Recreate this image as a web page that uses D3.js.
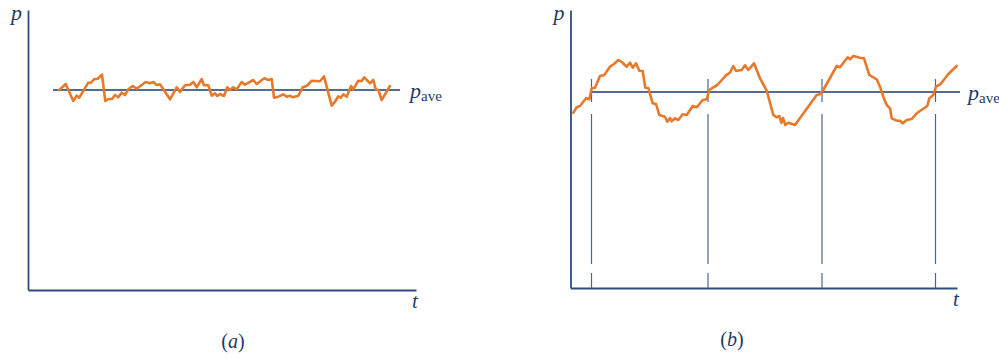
<!DOCTYPE html>
<html>
<head>
<meta charset="utf-8">
<script src="https://cdn.jsdelivr.net/npm/d3@7/dist/d3.min.js"></script>
<style>
  html, body { margin: 0; padding: 0; background: #fff; }
  svg { display: block; }
</style>
</head>
<body>
<svg id="chart" width="999" height="358"></svg>
<script>
// ---------- DATA ----------
// Panel (a): small fluctuations about the average
const tA = [31.3, 37.7, 45.3, 48.7, 51.3, 60.3, 63, 66, 69.7, 74, 77.3, 80.7, 84, 87, 90.3, 93.7, 97, 100.3, 104.7, 108.7,
  117.7, 122, 125.3, 128.7, 132, 142, 148.7, 152, 157, 162, 165.3, 168.7, 173.7, 176, 180.3, 183.7, 187, 189.3, 192, 196,
  199.3, 202, 205.3, 208.7, 213.7, 217, 225.3, 228.7, 236.3, 240.3, 243.7, 246, 250.3, 255.3, 258.7, 262, 264.7, 270.3, 274.7, 278.7,
  283.7, 292, 296, 303.7, 307, 310.3, 312.7, 315.3, 318.7, 323, 325.3, 330.3, 333.7, 336.3, 342, 345.3, 347.7, 350.3, 353.7, 362];
const pA = [200, 206, 189, 194.3, 192.3, 207.3, 207.3, 210.7, 211.3, 215.3, 189, 191, 191, 195, 192.7, 197.3, 195, 200.7, 204, 201.3,
  208, 206.7, 208, 205, 205.7, 190.7, 202.7, 198, 204.7, 205.3, 208, 202.7, 211, 204.7, 204.7, 194.3, 196.7, 194, 196, 194,
  202.7, 200, 202.7, 200.7, 208, 205.3, 210, 206, 211.7, 210, 211, 192.3, 193.3, 195.7, 193.3, 194.3, 192.7, 194.3, 202.7, 204,
  209.3, 208.7, 213.7, 184.3, 188.3, 193.7, 192.3, 195.7, 193.3, 204, 200.7, 209.3, 209, 212.7, 206.7, 210, 200.7, 200, 190, 204];
const paveA = 200;
const paveSpanA = [25, 372];
const tMaxA = 388, pMaxA = 280;

// Panel (b): periodic (oscillating) variation about the average
const tB = [2.8, 6.2, 9.5, 15.5, 18.8, 21.2, 24.5, 29.5, 33.8, 39.5, 43.5, 47.8, 51.2, 56.2, 59.5, 62.2, 65.5, 68.8, 72.2, 74.8,
  77.8, 82.2, 85.5, 88.8, 94.5, 96.8, 99.5, 101.2, 104.5, 107.8, 112.2, 116.2, 122.2, 126.2, 132.2, 136.2, 138.8, 142.8, 146.8, 155.5,
  159.5, 162.8, 165.5, 171.2, 174.5, 177.8, 183.5, 189.5, 196.2, 202.8, 206.2, 208.8, 210.8, 212.5, 214.8, 217.8, 224.5, 246.2, 249.5, 252.8,
  266.2, 269.5, 277.2, 279.5, 282.8, 289.5, 293.5, 298.8, 306.2, 309.5, 312.8, 316.2, 319.5, 321.2, 326.2, 329.5, 332.2, 336.2, 341.2, 346.2,
  356.8, 358.8, 362.8, 365.5, 370.2, 377.8, 386.2];
const pB = [175.3, 180.7, 182, 189.7, 188.7, 199.7, 200.3, 212, 213, 221.3, 224, 228, 226, 221.3, 225.3, 220.3, 224.7, 217.3, 217, 200.3,
  200, 184.7, 184, 173, 171.3, 166.3, 170, 166.7, 169.7, 168, 173.7, 173, 182, 180.7, 188, 188.7, 198, 200.7, 203, 212.7,
  215.3, 222, 217, 218, 222.7, 218, 224.7, 209.7, 197.3, 173, 170.7, 172, 165.3, 170, 163, 165.3, 163, 193, 193.7, 198,
  222, 220.7, 230.7, 228.7, 232, 230.3, 229.7, 213, 208.7, 201.3, 191.3, 183, 179.7, 169.7, 167.3, 167.3, 164.7, 168, 169, 174.7,
  182, 189.7, 193, 201.3, 204, 214, 222];
const paveB = 196;
const paveSpanB = [20.5, 389.5];
const tMaxB = 386.5, pMaxB = 278;
const periodMarks = [21, 137.5, 251.5, 365];
const markSegments = [[186, 209], [24, 174], [0, 15]];

// ---------- STYLE ----------
const ORANGE = "#e8792b";
const AXIS = "#2f4c7a";
const AVE = "#1e3a6b";
const MARK = "#4a6690";
const SERIF = "'Liberation Serif', 'Times New Roman', Times, 'DejaVu Serif', serif";
const TXT = "#1f3a66";

const svg = d3.select("#chart");

function drawPanel(o) {
  const x = d3.scaleLinear().domain([0, o.tMax]).range([o.x0, o.x1]);
  const y = d3.scaleLinear().domain([0, o.pMax]).range([o.y0, o.y1]);
  const g = svg.append("g");

  // axes (plain lines, no ticks)
  g.append("g").attr("transform", `translate(0,${o.y0})`)
    .call(d3.axisBottom(x).ticks(0).tickSize(0).tickSizeOuter(0).tickFormat(""))
    .call(s => s.select(".domain").attr("stroke", AXIS).attr("stroke-width", 1.8));
  g.append("g").attr("transform", `translate(${o.x0},0)`)
    .call(d3.axisLeft(y).ticks(0).tickSize(0).tickSizeOuter(0).tickFormat(""))
    .call(s => s.select(".domain").attr("stroke", AXIS).attr("stroke-width", 1.8));

  // period markers
  if (o.marks) {
    o.marks.forEach(m => {
      o.segs.forEach(sg => {
        g.append("line")
          .attr("x1", x(m)).attr("x2", x(m))
          .attr("y1", y(sg[0])).attr("y2", y(sg[1]))
          .attr("stroke", MARK).attr("stroke-width", 1.2);
      });
    });
  }

  // average line
  g.append("line")
    .attr("x1", x(o.aveSpan[0])).attr("x2", x(o.aveSpan[1]))
    .attr("y1", y(o.ave)).attr("y2", y(o.ave))
    .attr("stroke", AVE).attr("stroke-width", 1.5);

  // signal
  const line = d3.line().x((d, i) => x(o.t[i])).y(d => y(d));
  g.append("path").datum(o.p)
    .attr("d", line)
    .attr("fill", "none")
    .attr("stroke", ORANGE)
    .attr("stroke-width", 2.6)
    .attr("stroke-linejoin", "round")
    .attr("stroke-linecap", "round");

  // labels
  const T = (sel) => sel.attr("font-family", SERIF).attr("fill", TXT);
  g.append("text").call(T).attr("x", o.x0 - 17).attr("y", o.y1 + 10)
    .attr("font-size", 22).attr("font-style", "italic").text("p");
  const pv = g.append("text").call(T).attr("x", x(o.aveSpan[1]) + o.pvDx).attr("y", y(o.ave) + 8)
    .attr("font-size", 22);
  pv.append("tspan").attr("font-style", "italic").text("p");
  pv.append("tspan").attr("font-size", 15).attr("dy", 3).text("ave");
  g.append("text").call(T).attr("x", o.x1 - 4).attr("y", o.y0 + 18)
    .attr("font-size", 21).attr("font-style", "italic").text("t");
  const cap = g.append("text").call(T).attr("x", o.capX).attr("y", o.capY)
    .attr("font-size", 20).attr("text-anchor", "middle");
  cap.append("tspan").text("(");
  cap.append("tspan").attr("font-style", "italic").text(o.cap);
  cap.append("tspan").text(")");
}

drawPanel({ t: tA, p: pA, tMax: tMaxA, pMax: pMaxA, ave: paveA, aveSpan: paveSpanA,
  x0: 28, x1: 416, y0: 290, y1: 10, pvDx: 10, cap: "a", capX: 233, capY: 348 });
drawPanel({ t: tB, p: pB, tMax: tMaxB, pMax: pMaxB, ave: paveB, aveSpan: paveSpanB,
  x0: 570.5, x1: 957, y0: 288, y1: 10, pvDx: 8, cap: "b", capX: 732, capY: 346,
  marks: periodMarks, segs: markSegments });
</script>
</body>
</html>
